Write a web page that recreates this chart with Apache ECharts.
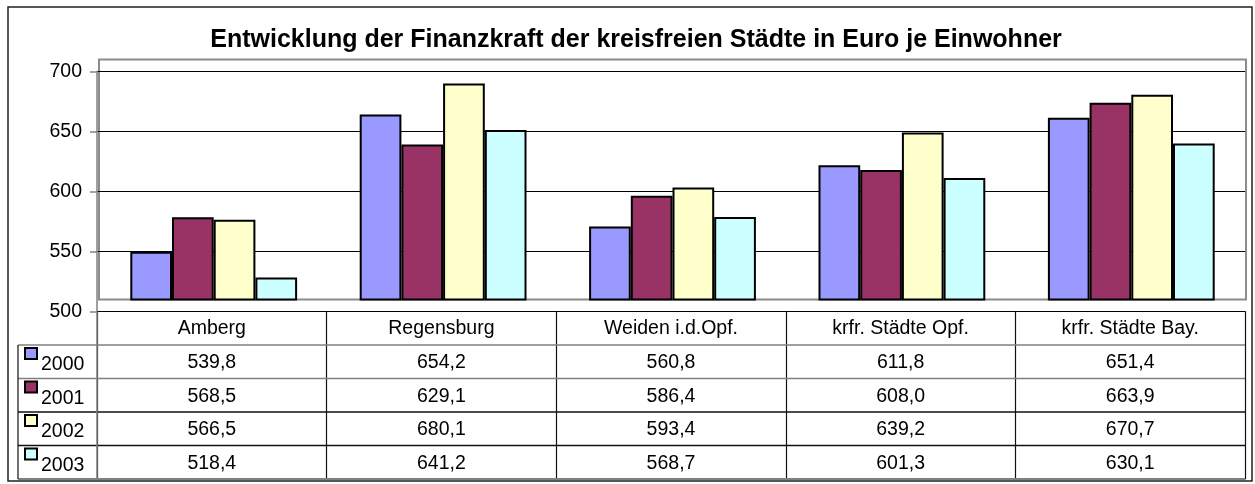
<!DOCTYPE html>
<html lang="de">
<head>
<meta charset="UTF-8">
<title>Finanzkraft</title>
<script src="https://cdn.jsdelivr.net/npm/echarts@6/dist/echarts.min.js"></script>
<style>
    body { margin: 0; background: #fff; }
    #main { width: 1255px; height: 484px; }
</style>
</head>
<body>
<div id="main"></div>
<script>
    // data
    var cities = ['Amberg', 'Regensburg', 'Weiden i.d.Opf.', 'krfr. Städte Opf.', 'krfr. Städte Bay.'];
    var years = ['2000', '2001', '2002', '2003'];
    var v2000 = [539.8, 654.2, 560.8, 611.8, 651.4];
    var v2001 = [568.5, 629.1, 586.4, 608.0, 663.9];
    var v2002 = [566.5, 680.1, 593.4, 639.2, 670.7];
    var v2003 = [518.4, 641.2, 568.7, 601.3, 630.1];
    var yMin = 500, yMax = 700, yStep = 50;

    var values = [v2000, v2001, v2002, v2003];
    var colors = ['#9999FF', '#993366', '#FFFFCC', '#CCFFFF'];
    var font = '"Liberation Sans", Arial, sans-serif';

    // table layout
    var tabLeft = 18, colLeft = 97, colW = 229.6;
    var headTop = 311.3, rowTop = 345, rowH = 33.5;
    var tabRight = colLeft + colW * cities.length;

    var graphic = [];
    // outer frame
    graphic.push({
        type: 'rect', z: 20, silent: true,
        shape: { x: 8, y: 7, width: 1244, height: 474 },
        style: { fill: 'none', stroke: '#222', lineWidth: 1.5 }
    });
    // row lines
    var lineCols = ['#808080', '#808080', '#111', '#111', '#808080'];
    for (let r = 0; r <= years.length; r++) {
        let y = rowTop + r * rowH;
        graphic.push({
            type: 'line', z: 20, silent: true,
            shape: { x1: tabLeft, y1: y, x2: tabRight, y2: y },
            style: { stroke: lineCols[r], lineWidth: r == years.length ? 2 : 1.5 }
        });
    }
    // left border of the key column
    graphic.push({
        type: 'line', z: 20, silent: true,
        shape: { x1: tabLeft, y1: rowTop, x2: tabLeft, y2: rowTop + rowH * years.length },
        style: { stroke: '#111', lineWidth: 1.2 }
    });
    graphic.push({
        type: 'line', z: 20, silent: true,
        shape: { x1: colLeft, y1: headTop, x2: colLeft, y2: rowTop + rowH * years.length },
        style: { stroke: '#808080', lineWidth: 1.5 }
    });
    for (let r = 0; r < years.length; r++) {
        let top = rowTop + r * rowH;
        // legend key
        graphic.push({
            type: 'rect', z: 21, silent: true,
            shape: { x: 25, y: top + 3, width: 12, height: 11 },
            style: { fill: colors[r], stroke: '#000', lineWidth: 2 }
        });
        graphic.push({
            type: 'text', z: 21, silent: true, x: 41, y: top + 20,
            style: { text: years[r], font: '19.5px ' + font, fill: '#000', align: 'left', verticalAlign: 'middle' }
        });
        for (let c = 0; c < cities.length; c++) {
            graphic.push({
                type: 'text', z: 21, silent: true, x: colLeft + colW * (c + 0.5), y: top + 18,
                style: {
                    text: values[r][c].toFixed(1).replace('.', ','),
                    font: '19.5px ' + font, fill: '#000', align: 'center', verticalAlign: 'middle'
                }
            });
        }
    }

    var series = [];
    for (let i = 0; i < years.length; i++) {
        series.push({
            name: years[i],
            type: 'bar',
            xAxisIndex: 1,
            yAxisIndex: 1,
            data: values[i],
            barWidth: 41.7,
            barGap: '0%',
            itemStyle: { color: colors[i], borderColor: '#000', borderWidth: 2 }
        });
    }

    var chart = echarts.init(document.getElementById('main'));
    var option = {
        animation: false,
        backgroundColor: '#fff',
        title: {
            text: 'Entwicklung der Finanzkraft der kreisfreien Städte in Euro je Einwohner',
            left: 631,
            top: 23,
            textAlign: 'center',
            textStyle: { fontSize: 25, fontWeight: 'bold', color: '#000', fontFamily: font }
        },
        grid: [
            // axis + gridlines + table head
            { left: colLeft, top: 71.3, width: colW * cities.length, height: 240 },
            // bars inside the grey plot frame
            {
                left: 99, top: 59.5, width: 1147, height: 240, show: true,
                borderColor: '#8c8c8c', borderWidth: 2, backgroundColor: 'transparent'
            }
        ],
        xAxis: [
            {
                gridIndex: 0,
                type: 'category',
                data: cities,
                axisLine: { show: true, lineStyle: { color: '#000', width: 1 } },
                axisTick: { show: true, length: 168, lineStyle: { color: '#111', width: 1.2 } },
                axisLabel: {
                    color: '#000', fontSize: 19.5, fontFamily: font,
                    margin: 17, verticalAlign: 'middle'
                }
            },
            { gridIndex: 1, type: 'category', data: cities, show: false }
        ],
        yAxis: [
            {
                gridIndex: 0,
                type: 'value',
                min: yMin, max: yMax, interval: yStep,
                axisLine: { show: true, lineStyle: { color: '#808080', width: 1.5 } },
                axisTick: { show: true, length: 7, lineStyle: { color: '#808080', width: 1.5 } },
                axisLabel: { color: '#000', fontSize: 19.5, fontFamily: font, margin: 15 },
                splitLine: { show: true, lineStyle: { color: '#000', width: 1 } }
            },
            { gridIndex: 1, type: 'value', min: yMin, max: yMax, show: false, splitLine: { show: false } }
        ],
        series: series,
        graphic: graphic
    };
    chart.setOption(option);
</script>
</body>
</html>
